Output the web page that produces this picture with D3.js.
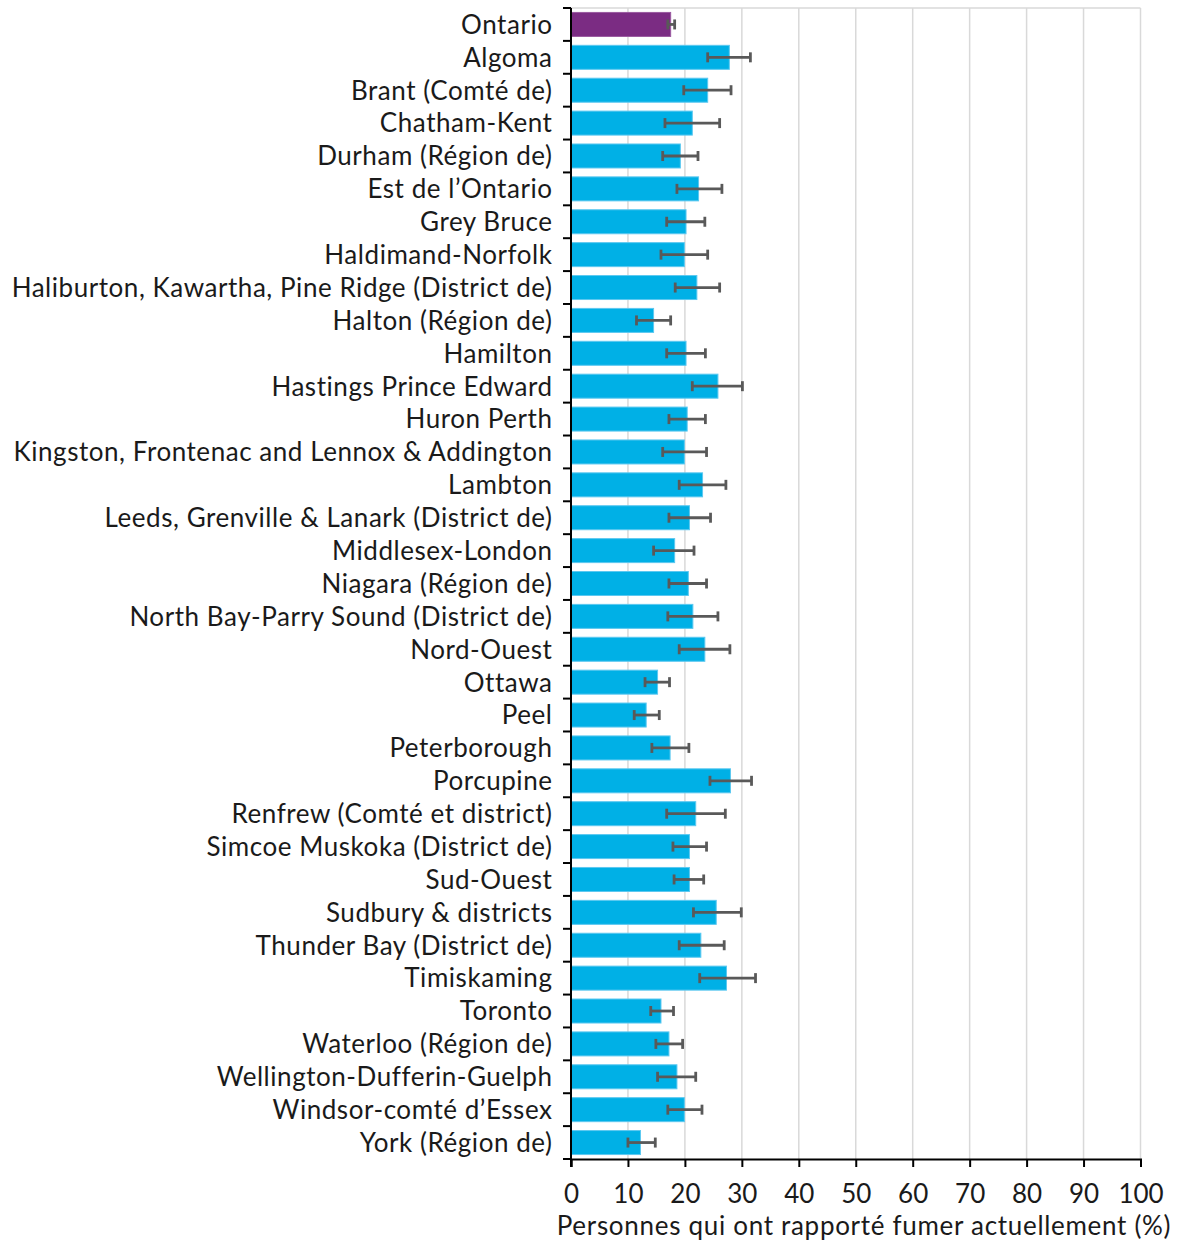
<!DOCTYPE html>
<html>
<head>
<meta charset="utf-8">
<script src="https://cdn.jsdelivr.net/npm/d3@7"></script>
<style>
  body { margin: 0; background: #fff; }
  text { font-family: Lato, "Open Sans", sans-serif; fill: #1a1a1a; }
</style>
</head>
<body>
<div id="chart"></div>
<script>
// regions, top to bottom
var regions = ["Ontario", "Algoma", "Brant (Comté de)", "Chatham-Kent", "Durham (Région de)",
	"Est de l\u2019Ontario", "Grey Bruce", "Haldimand-Norfolk",
	"Haliburton, Kawartha, Pine Ridge (District de)", "Halton (Région de)", "Hamilton",
	"Hastings Prince Edward", "Huron Perth", "Kingston, Frontenac and Lennox & Addington",
	"Lambton", "Leeds, Grenville & Lanark (District de)", "Middlesex-London",
	"Niagara (Région de)", "North Bay-Parry Sound (District de)", "Nord-Ouest", "Ottawa",
	"Peel", "Peterborough", "Porcupine", "Renfrew (Comté et district)",
	"Simcoe Muskoka (District de)", "Sud-Ouest", "Sudbury & districts",
	"Thunder Bay (District de)", "Timiskaming", "Toronto", "Waterloo (Région de)",
	"Wellington-Dufferin-Guelph", "Windsor-comté d\u2019Essex", "York (Région de)"];

// percent currently smoking
var values = [17.5, 27.8, 24.0, 21.3, 19.2, 22.4, 20.2, 19.9, 22.1, 14.5, 20.2, 25.8, 20.4,
	19.9, 23.1, 20.8, 18.2, 20.6, 21.4, 23.5, 15.2, 13.2, 17.4, 28.0, 21.9, 20.8, 20.8,
	25.5, 22.8, 27.3, 15.8, 17.2, 18.6, 19.9, 12.2];

// 95% CI
var lower = [17.0, 24.0, 19.8, 16.5, 16.1, 18.6, 16.8, 15.8, 18.3, 11.5, 16.8, 21.3, 17.2,
	16.1, 19.0, 17.2, 14.5, 17.2, 17.0, 19.0, 13.0, 11.1, 14.2, 24.4, 16.8, 17.9, 18.1,
	21.5, 19.0, 22.6, 14.0, 14.9, 15.2, 17.0, 10.0];
var upper = [18.2, 31.5, 28.1, 26.1, 22.3, 26.5, 23.5, 24.0, 26.1, 17.5, 23.6, 30.1, 23.6,
	23.8, 27.2, 24.5, 21.6, 23.8, 25.8, 27.9, 17.3, 15.5, 20.7, 31.7, 27.1, 23.8, 23.3,
	29.9, 26.9, 32.4, 18.0, 19.6, 21.9, 23.0, 14.8];

var xTicks = [0, 10, 20, 30, 40, 50, 60, 70, 80, 90, 100];
var xTitle = "Personnes qui ont rapporté fumer actuellement (%)";

var width = 1178, height = 1241;
var margin = { top: 8, right: 37.5, bottom: 82, left: 571 };

var rows = regions.map(function (r, i) {
	return { name: r, value: values[i], lo: lower[i], hi: upper[i] };
});

var svg = d3.select("#chart").append("svg")
	.attr("width", width).attr("height", height);

var x = d3.scaleLinear().domain([0, 100]).range([margin.left, width - margin.right]);
var y = d3.scaleBand().domain(regions)
	.range([margin.top, height - margin.bottom])
	.paddingInner(0.27).paddingOuter(0.135);

// gridlines
svg.append("g").selectAll("line").data(xTicks.slice(1)).enter().append("line")
	.attr("x1", function (d) { return x(d); }).attr("x2", function (d) { return x(d); })
	.attr("y1", margin.top).attr("y2", height - margin.bottom)
	.attr("stroke", "#d9d9d9").attr("stroke-width", 1.5);
svg.append("line")
	.attr("x1", x(0)).attr("x2", x(100))
	.attr("y1", margin.top).attr("y2", margin.top)
	.attr("stroke", "#d9d9d9").attr("stroke-width", 1.5);

// bars
svg.append("g").selectAll("rect").data(rows).enter().append("rect")
	.attr("x", x(0))
	.attr("y", function (d) { return y(d.name); })
	.attr("width", function (d) { return x(d.value) - x(0); })
	.attr("height", y.bandwidth())
	.attr("fill", function (d, i) { return i == 0 ? "#7b2c83" : "#00b0e6"; })
	.attr("stroke", function (d, i) { return i == 0 ? "#9a5aa0" : "#5cc8f0"; })
	.attr("stroke-width", 1);

// error bars
var eb = svg.append("g").attr("stroke", "#595959").attr("stroke-width", 2.8);
rows.forEach(function (d) {
	var cy = y(d.name) + y.bandwidth() / 2;
	eb.append("line").attr("x1", x(d.lo)).attr("x2", x(d.hi)).attr("y1", cy).attr("y2", cy);
	eb.append("line").attr("x1", x(d.lo)).attr("x2", x(d.lo)).attr("y1", cy - 5).attr("y2", cy + 5);
	eb.append("line").attr("x1", x(d.hi)).attr("x2", x(d.hi)).attr("y1", cy - 5).attr("y2", cy + 5);
});

// y axis
var yAxis = svg.append("g");
yAxis.append("line")
	.attr("x1", x(0)).attr("x2", x(0))
	.attr("y1", margin.top).attr("y2", height - margin.bottom + 8)
	.attr("stroke", "#000").attr("stroke-width", 2);
var bounds = regions.map(function (r) { return y(r) - y.step() * y.paddingInner() / 2; });
bounds.push(height - margin.bottom);
yAxis.selectAll(".tk").data(bounds).enter().append("line")
	.attr("x1", x(0) - 8).attr("x2", x(0))
	.attr("y1", function (d) { return d; }).attr("y2", function (d) { return d; })
	.attr("stroke", "#000").attr("stroke-width", 2);
yAxis.selectAll("text").data(regions).enter().append("text")
	.attr("x", 552.5)
	.attr("y", function (d) { return y(d) + y.bandwidth() / 2; })
	.attr("dy", "0.36em")
	.attr("text-anchor", "end")
	.attr("font-size", 26)
	.attr("letter-spacing", 0.55)
	.text(function (d) { return d; });

// x axis
var xAxis = d3.axisBottom(x).tickValues(xTicks).tickSize(8).tickPadding(18);
var gx = svg.append("g")
	.attr("transform", "translate(0," + (height - margin.bottom) + ")")
	.call(xAxis);
gx.select(".domain").attr("stroke", "#000").attr("stroke-width", 2);
gx.selectAll(".tick line").attr("stroke", "#000").attr("stroke-width", 2);
gx.selectAll(".tick text").attr("font-size", 26).attr("fill", "#1a1a1a")
	.style("font-family", "Lato, 'Open Sans', sans-serif");

svg.append("text")
	.attr("x", 864).attr("y", 1235)
	.attr("text-anchor", "middle")
	.attr("font-size", 26)
	.attr("letter-spacing", 0.7)
	.text(xTitle);
</script>
</body>
</html>
